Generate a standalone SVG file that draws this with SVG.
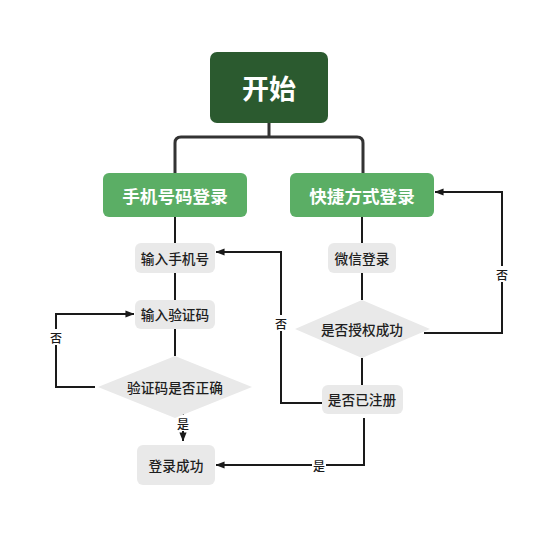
<svg xmlns="http://www.w3.org/2000/svg" width="559" height="536" viewBox="0 0 559 536">
<defs>
<marker id="ah" viewBox="0 0 10 8" refX="9.5" refY="4" markerWidth="9" markerHeight="7.2" orient="auto" markerUnits="userSpaceOnUse">
<path d="M0,0 L10,4 L0,8 z" fill="#1a1a1a"/>
</marker>
<style>
.tree{fill:none;stroke:#333;stroke-width:3}
.ln{fill:none;stroke:#1a1a1a;stroke-width:2}
.lbl{font-family:"Noto Sans CJK SC","Noto Sans",sans-serif;font-size:12px;font-weight:500;fill:#1a1a1a;text-anchor:middle;dominant-baseline:central}
.lblbg{fill:#fff}
.gbox{fill:#e9e9e9}
.gtxt{font-family:"Noto Sans CJK SC","Noto Sans",sans-serif;font-size:13.7px;font-weight:500;fill:#1e1e1e;text-anchor:middle;dominant-baseline:central}
.green{fill:#5bae65}
.wtxt{font-family:"Noto Sans CJK SC","Noto Sans",sans-serif;font-size:17.6px;font-weight:bold;fill:#fff;text-anchor:middle;dominant-baseline:central}
</style>
</defs>
<rect width="559" height="536" fill="#fff"/>
<g id="connectors">
<path class="tree" d="M269,123 V137 M175,173 V143 Q175,137 181,137 H357 Q363,137 363,143 V173"/>
<path class="ln" d="M175,217 V243 M175,273 V300 M175,329 V356"/>
<path class="ln" d="M362,217 V243 M362,273 V300 M362,358 V385"/>
<path class="ln" d="M183,411 V441" marker-end="url(#ah)"/>
<path class="ln" d="M95,387 H56 V314 H134" marker-end="url(#ah)"/>
<path class="ln" d="M424,333 H502 V192 H435" marker-end="url(#ah)"/>
<path class="ln" d="M322,403 H281 V252 H216" marker-end="url(#ah)"/>
<path class="ln" d="M364,418 V465 H216" marker-end="url(#ah)"/>
<rect class="lblbg" x="176" y="415" width="13" height="16"/>
<text class="lbl" x="183" y="423">是</text>
<rect class="lblbg" x="50" y="329" width="13" height="16"/>
<text class="lbl" x="56" y="337">否</text>
<rect class="lblbg" x="495" y="266" width="14" height="16"/>
<text class="lbl" x="502" y="274">否</text>
<rect class="lblbg" x="274" y="315" width="14" height="16"/>
<text class="lbl" x="281" y="323">否</text>
<rect class="lblbg" x="312" y="457" width="14" height="16"/>
<text class="lbl" x="319" y="465">是</text>
</g>
<g id="start">
<rect x="210" y="52" width="118" height="71" rx="7" fill="#2b5a2f"/>
<text x="269" y="87" font-family="Noto Sans CJK SC,Noto Sans,sans-serif" font-size="27" font-weight="bold" fill="#fff" text-anchor="middle" dominant-baseline="central">开始</text>
</g>
<g id="phone-login">
<rect class="green" x="103" y="173" width="144" height="44" rx="6"/>
<text class="wtxt" x="175" y="195">手机号码登录</text>
</g>
<g id="quick-login">
<rect class="green" x="290" y="173" width="144" height="44" rx="6"/>
<text class="wtxt" x="362" y="195">快捷方式登录</text>
</g>
<g id="input-phone">
<rect class="gbox" x="135" y="243" width="80" height="30" rx="6"/>
<text class="gtxt" x="175" y="258">输入手机号</text>
</g>
<g id="input-code">
<rect class="gbox" x="135" y="300" width="80" height="29" rx="6"/>
<text class="gtxt" x="175" y="314">输入验证码</text>
</g>
<g id="check-code">
<polygon class="gbox" points="175,356 252,387 175,418 98,387"/>
<text class="gtxt" x="175" y="387">验证码是否正确</text>
</g>
<g id="login-ok">
<rect class="gbox" x="137" y="445" width="78" height="40" rx="6"/>
<text class="gtxt" x="176" y="465">登录成功</text>
</g>
<g id="wechat">
<rect class="gbox" x="328" y="243" width="68" height="30" rx="6"/>
<text class="gtxt" x="362" y="258">微信登录</text>
</g>
<g id="auth-ok">
<polygon class="gbox" points="362,300 430,329 362,358 295,329"/>
<text class="gtxt" x="362" y="329">是否授权成功</text>
</g>
<g id="registered">
<rect class="gbox" x="322" y="385" width="81" height="29" rx="6"/>
<text class="gtxt" x="362" y="399">是否已注册</text>
</g>
</svg>
